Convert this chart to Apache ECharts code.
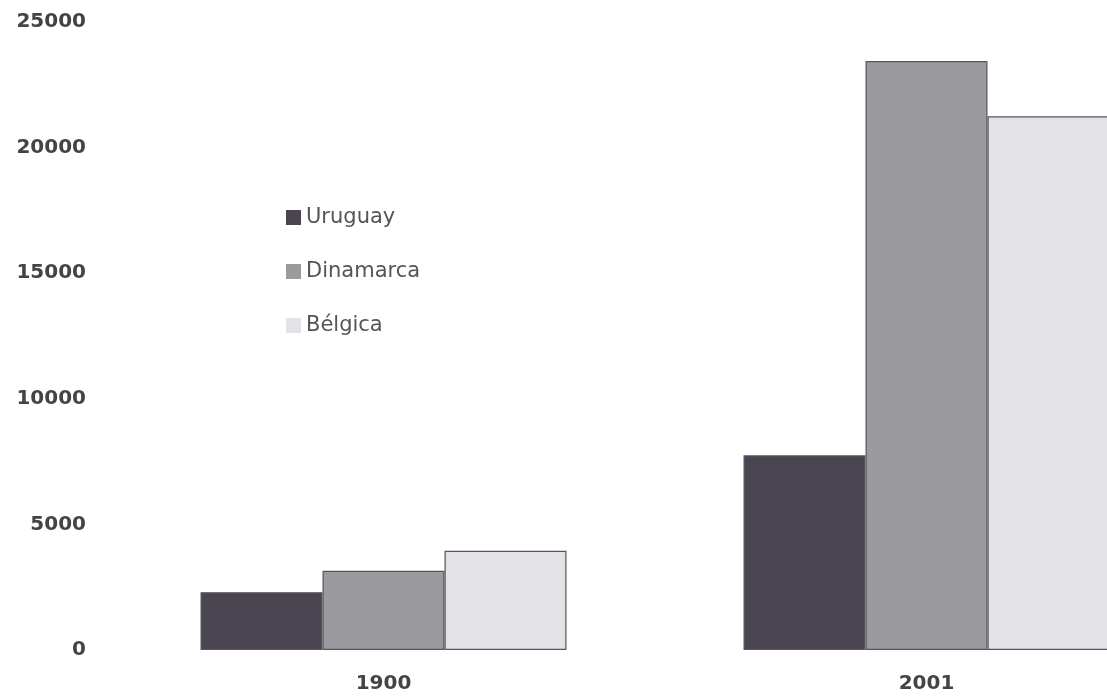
<!DOCTYPE html>
<html>
<head>
<meta charset="utf-8">
<script src="https://cdn.jsdelivr.net/npm/echarts@6/dist/echarts.min.js"></script>
<style>
  html, body { margin: 0; padding: 0; background: #fff; overflow: hidden; }
  /* the plot runs past the right edge of the window, as in the scan */
  #grafico { width: 1198px; height: 696px; }
</style>
</head>
<body>
<div id="grafico"></div>
<script>
var anios = ["1900", "2001"];
var paises = ["Uruguay", "Dinamarca", "Bélgica"];
var uruguay = [2300, 7750];
var dinamarca = [3150, 23450];
var belgica = [3950, 21250];
var colores = ["#4a4550", "#9b9a9e", "#e3e3e7"];

function serie(nombre, datos, color){
    return {
        name: nombre,
        type: "bar",
        data: datos,
        barGap: "0%",
        barCategoryGap: "32.6%",
        itemStyle: { color: color, borderColor: "#55555a", borderWidth: 1.2 }
    };
}

var dom = document.getElementById("grafico");
var myChart = echarts.init(dom);
var option = {
    animation: false,
    color: colores,
    grid: { left: 112, right: 0, top: 22, bottom: 46 },
    legend: {
        orient: "vertical",
        left: 281,
        top: 202,
        itemWidth: 15,
        itemHeight: 15,
        itemGap: 33,
        icon: "rect",
        itemStyle: { borderWidth: 0 },
        textStyle: { fontFamily: "DejaVu Sans", fontSize: 21, lineHeight: 21, color: "#555" },
        data: paises
    },
    xAxis: {
        type: "category",
        data: anios,
        axisLine: { show: false },
        axisTick: { show: false },
        axisLabel: { margin: 24, fontFamily: "DejaVu Sans", fontWeight: "bold", fontSize: 20, color: "#444" }
    },
    yAxis: {
        type: "value",
        min: 0,
        max: 25000,
        interval: 5000,
        splitLine: { show: false },
        axisLine: { show: false },
        axisTick: { show: false },
        axisLabel: {
            margin: 26,
            fontFamily: "DejaVu Sans",
            fontWeight: "bold",
            fontSize: 20,
            color: "#444",
            formatter: function(v){ return String(v); }
        }
    },
    series: [
        serie(paises[0], uruguay, colores[0]),
        serie(paises[1], dinamarca, colores[1]),
        serie(paises[2], belgica, colores[2])
    ]
};
myChart.setOption(option, true);
</script>
</body>
</html>
